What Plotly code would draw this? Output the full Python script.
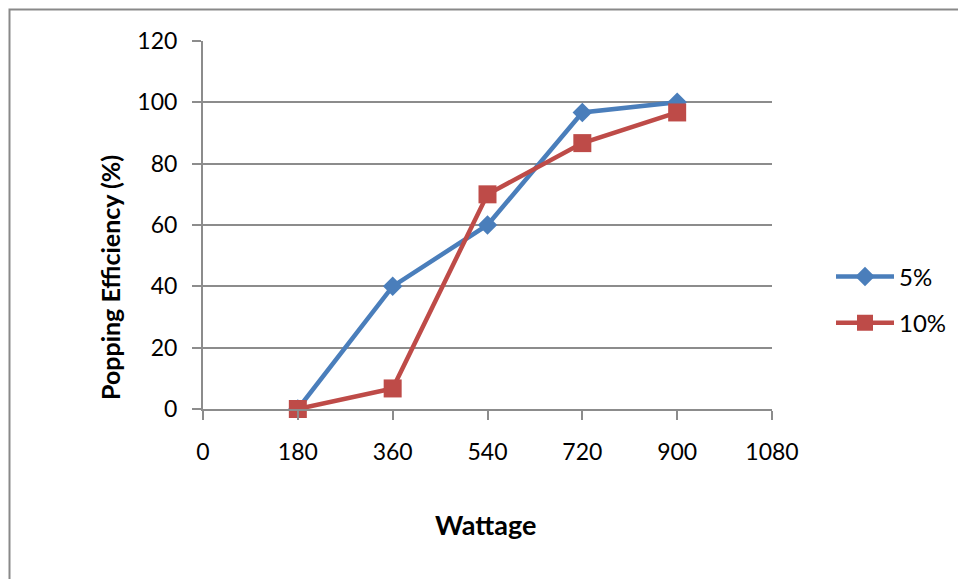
import plotly.graph_objects as go

wattage = [180, 360, 540, 720, 900]
eff_5 = [0, 40, 60, 96.7, 100]
eff_10 = [0, 6.7, 70, 86.7, 96.7]
series_names = ["5%", "10%"]
x_ticks = [0, 180, 360, 540, 720, 900, 1080]
y_ticks = [0, 20, 40, 60, 80, 100, 120]

BLUE = "#4A7EBB"
RED = "#BE4B48"
GRID = "#8C8C8C"
FONT = "Lato, 'Open Sans', sans-serif"

fig = go.Figure()
fig.add_trace(go.Scatter(
    x=wattage, y=eff_5, name=series_names[0], mode="lines+markers",
    line=dict(color=BLUE, width=4.5),
    marker=dict(symbol="diamond", size=15, color=BLUE),
    cliponaxis=False, legendgroup="a",
))
fig.add_trace(go.Scatter(
    x=wattage, y=eff_10, name=series_names[1], mode="lines+markers",
    line=dict(color=RED, width=4.5),
    marker=dict(symbol="square", size=18, color=RED),
    cliponaxis=False, legendgroup="b",
))

W, H = 958, 579
L, R, T, B = 203, 958 - 772, 41, 579 - 409
pw, ph = W - L - R, H - T - B

def px_x(v):
    return (v - L) / pw

def px_y(v):
    return (H - B - v) / ph

fig.add_shape(type="rect", xref="paper", yref="paper",
              x0=px_x(9.5), x1=px_x(990), y0=px_y(9.5), y1=px_y(600),
              line=dict(color="#898989", width=2), fillcolor="rgba(0,0,0,0)", layer="below")

fig.add_annotation(text="<b>Popping Efficiency (%)</b>", textangle=-90,
                   xref="paper", yref="paper", x=px_x(110), y=px_y(278),
                   xanchor="center", yanchor="middle", showarrow=False,
                   font=dict(size=25, family=FONT, color="black"))
fig.add_annotation(text="<b>Wattage</b>",
                   xref="paper", yref="paper", x=px_x(485), y=px_y(524),
                   xanchor="center", yanchor="middle", showarrow=False,
                   font=dict(size=27, family=FONT, color="black"))

fig.update_layout(
    width=W, height=H,
    margin=dict(l=L, r=R, t=T, b=B, autoexpand=False),
    paper_bgcolor="white", plot_bgcolor="white",
    font=dict(family=FONT, size=23, color="black"),
    showlegend=True,
    legend=dict(x=px_x(831), y=px_y(300), xanchor="left", yanchor="middle",
                font=dict(size=24, family=FONT), tracegroupgap=12,
                itemwidth=58, bgcolor="rgba(0,0,0,0)"),
    xaxis=dict(
        range=[0, 1080], tickvals=x_ticks, ticktext=[str(v) for v in x_ticks],
        showgrid=False, showline=True, linecolor=GRID, linewidth=2,
        ticks="outside", ticklen=9, tickwidth=2, tickcolor=GRID,
        ticklabelstandoff=12, zeroline=False, automargin=False,
    ),
    yaxis=dict(
        range=[0, 120], tickvals=y_ticks, ticktext=[str(v) for v in y_ticks],
        showgrid=True, gridcolor=GRID, gridwidth=2,
        showline=True, linecolor=GRID, linewidth=2,
        ticks="outside", ticklen=9, tickwidth=2, tickcolor=GRID,
        ticklabelstandoff=10, zeroline=False, automargin=False,
    ),
)

fig.write_html("out.html")
